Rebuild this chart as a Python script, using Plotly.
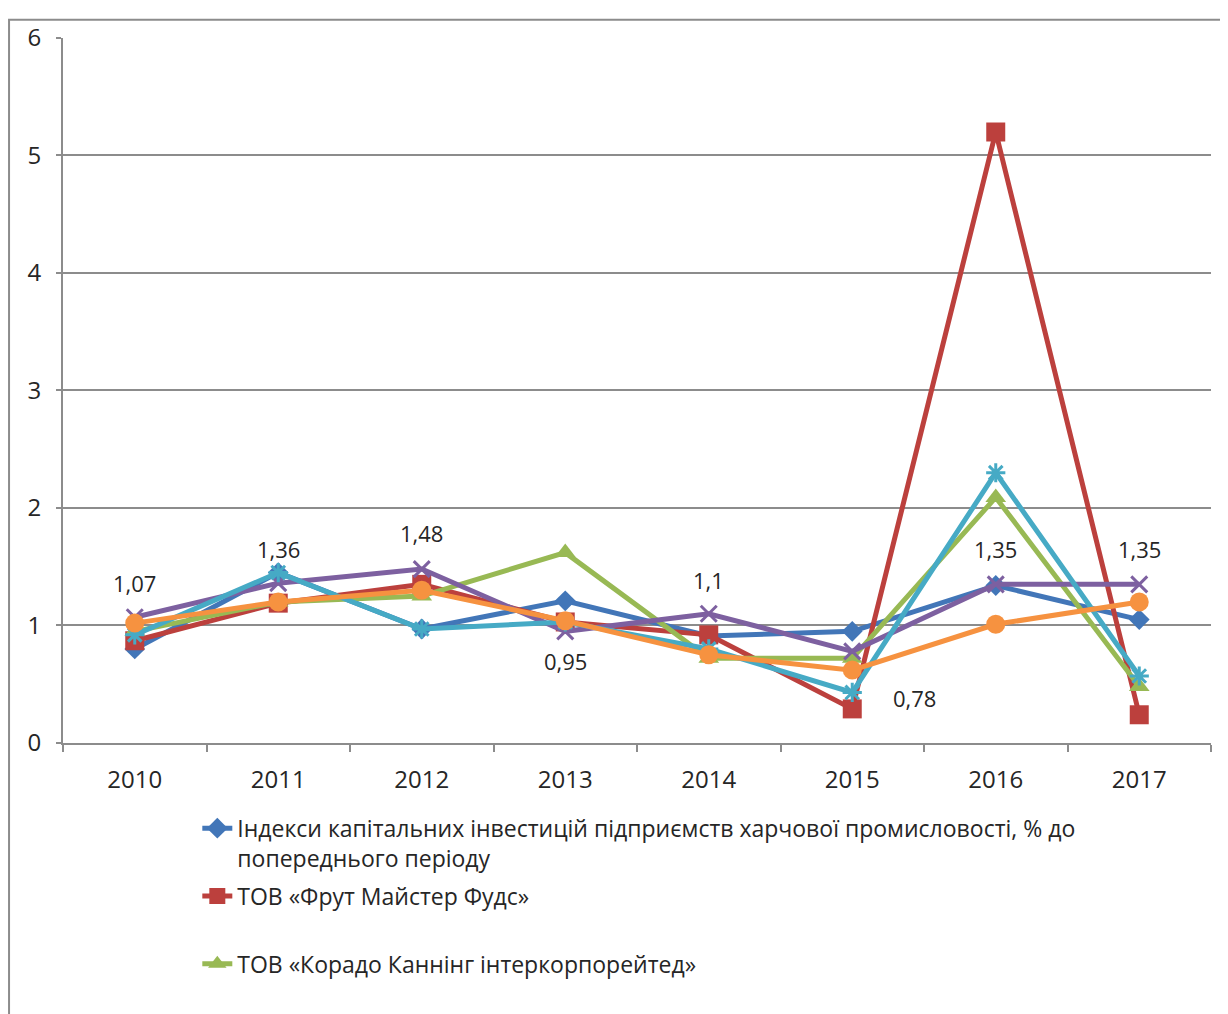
"""Індекси капітальних інвестицій: лінійний графік за роками."""
import plotly.graph_objects as go

years = ["2010", "2011", "2012", "2013", "2014", "2015", "2016", "2017"]

industry = [0.80, 1.45, 0.97, 1.21, 0.91, 0.95, 1.34, 1.05]
frut = [0.87, 1.19, 1.35, 1.03, 0.92, 0.29, 5.20, 0.24]
korado = [0.95, 1.20, 1.25, 1.62, 0.72, 0.72, 2.09, 0.48]
purple_vals = [1.07, 1.36, 1.48, 0.95, 1.10, 0.78, 1.35, 1.35]
teal_vals = [0.92, 1.45, 0.97, 1.03, 0.80, 0.43, 2.30, 0.57]
orange_vals = [1.02, 1.20, 1.30, 1.04, 0.75, 0.62, 1.01, 1.20]

names = [
    "Індекси капітальних інвестицій підприємств харчової промисловості, % до<br>попереднього періоду",
    "ТОВ «Фрут Майстер Фудс»<br> ",
    "ТОВ «Корадо Каннінг інтеркорпорейтед»",
    "series 4",
    "series 5",
    "series 6",
]

FONT = "Open Sans"
GRID = "#8c8c8c"

series = [
    (industry, "#4276b8", dict(symbol="diamond", size=16), True),
    (frut, "#bc403d", dict(symbol="square", size=19), True),
    (korado, "#98b954", dict(symbol="triangle-up", size=18), True),
    (purple_vals, "#7d60a0", dict(symbol="x-thin-open", size=16, line=dict(width=3, color="#7d60a0")), False),
    (teal_vals, "#46aac5", dict(symbol="asterisk-open", size=16, line=dict(width=3, color="#46aac5")), False),
    (orange_vals, "#f69240", dict(symbol="circle", size=19), False),
]

fig = go.Figure()
for k, ((vals, color, marker, show), name) in enumerate(zip(series, names)):
    fig.add_trace(go.Scatter(
        x=years,
        y=vals,
        mode="lines+markers",
        name=name,
        legendgroup=f"g{k}",
        line=dict(color=color, width=5),
        marker=dict(color=color, **marker),
        showlegend=show,
    ))

# підписи значень для фіолетової серії
label_shift = [(0, 34), (0, 34), (0, 36), (0, -30), (0, 34), (62, -47), (0, 35), (0, 35)]
for i, (v, (dx, dy)) in enumerate(zip(purple_vals, label_shift)):
    fig.add_annotation(
        x=i, y=v, xref="x", yref="y", text=f"{v:g}".replace(".", ","),
        showarrow=False, xshift=dx, yshift=dy,
        font=dict(family=FONT, size=22, color="#262626"),
    )

# рамка області діаграми
fig.add_shape(
    type="rect", xref="paper", yref="paper",
    x0=-0.047, x1=1.013, y0=-0.5, y1=1.026,
    line=dict(color=GRID, width=2), fillcolor="rgba(0,0,0,0)",
)

fig.update_layout(
    width=1220,
    height=1006,
    margin=dict(l=55, r=17, t=25, b=268),
    paper_bgcolor="white",
    plot_bgcolor="white",
    font=dict(family=FONT, size=22, color="#262626"),
    legend=dict(
        x=0.117, xanchor="left", yref="container", y=0.206, yanchor="top",
        valign="top", tracegroupgap=5,
        font=dict(family=FONT, size=23, color="#262626"),
    ),
)
fig.update_xaxes(
    type="category", range=[-0.5, 7.5],
    showgrid=False, showline=True, linecolor=GRID, linewidth=2,
    ticks="outside", tickson="boundaries", ticklen=7, tickcolor=GRID, tickwidth=2,
    tickfont=dict(size=24), ticklabelstandoff=14,
)
fig.update_yaxes(
    range=[0, 6], dtick=1,
    showgrid=True, gridcolor=GRID, gridwidth=2,
    showline=True, linecolor=GRID, linewidth=2,
    ticks="outside", ticklen=5, tickcolor=GRID, tickwidth=2,
    tickfont=dict(size=24), zeroline=False, ticklabelstandoff=10,
)

fig.write_html("out.html")
